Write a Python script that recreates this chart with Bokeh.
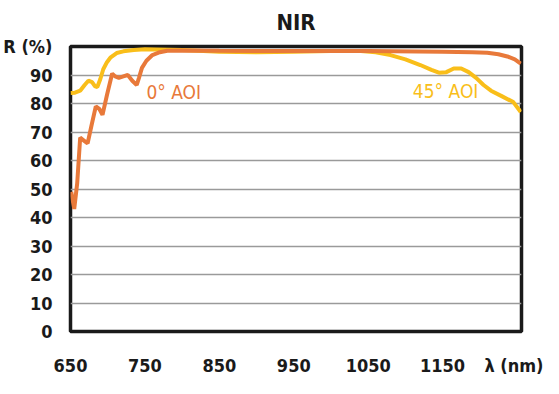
from bokeh.plotting import figure
from bokeh.models import Label, Range1d, FixedTicker
from bokeh.embed import file_html
from bokeh.resources import INLINE

# 0 deg AOI (orange)
wl_0 = [651, 655, 659, 663, 668, 673, 678, 684, 689, 693, 699, 706, 710, 715, 721, 727,
        733, 739, 742, 746, 752, 760, 770, 780, 800, 850, 950, 1050, 1150, 1190, 1210,
        1225, 1237, 1247, 1255]
r_0 = [49, 43, 52, 68, 67, 66, 72, 79, 78, 76, 83, 90.5, 89.5, 89, 89.5, 90,
       88, 86.5, 89, 92.5, 95, 97, 98, 98.5, 98.6, 98.5, 98.4, 98.4, 98.2, 98, 97.8,
       97.3, 96.5, 95.5, 94]

# 45 deg AOI (yellow)
wl_45 = [650, 656, 663, 669, 674, 679, 683, 686, 690, 694, 699, 704, 712, 721, 735, 750,
         800, 850, 900, 950, 1000, 1040, 1060, 1080, 1100, 1120, 1135, 1145, 1155, 1165,
         1175, 1185, 1195, 1205, 1215, 1230, 1245, 1255]
r_45 = [83.7, 83.8, 84.5, 86.5, 88, 87.5, 86, 85.8, 88.5, 92, 94.5, 96.2, 97.7, 98.3, 98.8, 99,
        98.8, 98.2, 98.0, 98.2, 98.4, 98.4, 98, 97, 95.5, 93.5, 91.8, 90.8, 91, 92.3,
        92.3, 91, 89, 86.5, 84.5, 82.5, 80.5, 77]

x_ticks = [650, 750, 850, 950, 1050, 1150]
y_ticks = [0, 10, 20, 30, 40, 50, 60, 70, 80, 90]
x_title, x_title_at = "λ (nm)", 1251
y_title, y_title_at = "R (%)", 100

FONT = "DejaVu Sans Condensed, DejaVu Sans"
ORANGE = "#E8793A"
YELLOW = "#F9BE1A"
INK = "#1a1a1a"

p = figure(width=543, height=378, output_backend="svg", toolbar_location=None,
           x_range=Range1d(650, 1256), y_range=Range1d(0, 100),
           min_border_left=70, min_border_right=22, min_border_top=46, min_border_bottom=43)

p.title.text = "NIR"
p.title.align = "center"
p.title.vertical_align = "top"
p.title.text_font = FONT
p.title.text_font_size = "22px"
p.title.text_font_style = "bold"
p.title.text_color = INK
p.title.standoff = 19

p.outline_line_color = INK
p.outline_line_width = 3.5
p.background_fill_color = "white"
p.border_fill_color = "white"

p.xgrid.grid_line_color = None
p.ygrid.ticker = FixedTicker(ticks=y_ticks)
p.ygrid.grid_line_color = "#9a9a9a"
p.ygrid.grid_line_width = 1.5

p.xaxis.ticker = FixedTicker(ticks=x_ticks + [x_title_at])
p.xaxis.major_label_overrides = {x_title_at: x_title}
p.yaxis.ticker = FixedTicker(ticks=y_ticks + [y_title_at])
p.yaxis.major_label_overrides = {y_title_at: y_title}
for ax in (p.xaxis[0], p.yaxis[0]):
    ax.axis_line_color = None
    ax.major_tick_line_color = None
    ax.minor_tick_line_color = None
    ax.major_label_text_font = FONT
    ax.major_label_text_font_size = "18px"
    ax.major_label_text_font_style = "bold"
    ax.major_label_text_color = INK
p.xaxis.major_label_standoff = 17
p.yaxis.major_label_standoff = 12

p.line(wl_45, r_45, line_color=YELLOW, line_width=4)
p.line(wl_0, r_0, line_color=ORANGE, line_width=4)

p.add_layout(Label(x=752, y=84, text="0° AOI", text_color=ORANGE, text_font=FONT,
                   text_font_size="19px", text_baseline="middle", text_align="left"))
p.add_layout(Label(x=1154, y=84.5, text="45° AOI", text_color=YELLOW, text_font=FONT,
                   text_font_size="19px", text_baseline="middle", text_align="center"))

open("out.html", "w").write(file_html(p, INLINE))
